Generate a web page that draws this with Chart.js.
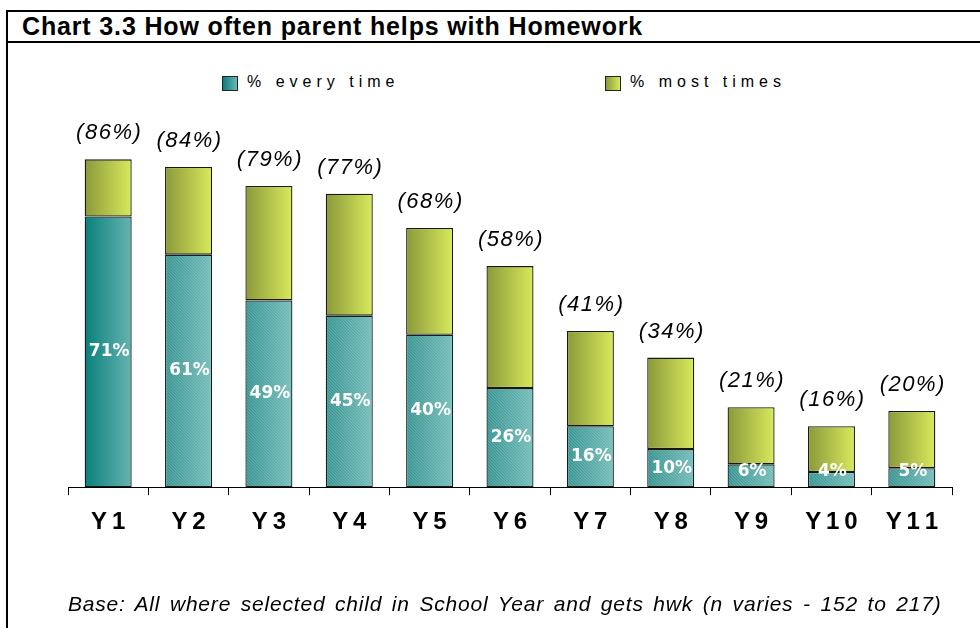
<!DOCTYPE html>
<html>
<head>
<meta charset="utf-8">
<script src="https://cdn.jsdelivr.net/npm/chart.js@4.4.1/dist/chart.umd.min.js"></script>
<style>
  html, body { margin: 0; padding: 0; background: #fff; }
  #wrap { position: relative; width: 980px; height: 628px; overflow: hidden; font-family: "Liberation Sans", Arial, sans-serif; }
  #frame { position: absolute; left: 6px; top: 10px; width: 990px; height: 640px; border-left: 2px solid #000; border-top: 2px solid #000; }
  #title { position: absolute; left: 8px; top: 12px; width: 990px; height: 29px; border-bottom: 2px solid #000; }
  #title span { position: absolute; left: 14px; top: 0px; font: bold 25px "Liberation Sans", Arial, sans-serif; letter-spacing: 0.85px; color: #000; }
  .leg { position: absolute; top: 73px; font: 16px "Liberation Sans", Arial, sans-serif; letter-spacing: 5px; color: #000; }
  .leg i { position: absolute; left: -25px; top: 3px; width: 14px; height: 13px; border: 1px solid #222; }
  #foot { position: absolute; left: 68px; top: 592px; font: italic 21px "Liberation Sans", Arial, sans-serif; color: #000; letter-spacing: 0.8px; word-spacing: 3px; white-space: nowrap; }
  #myChart { position: absolute; left: 0; top: 0; }
</style>
</head>
<body>
<div id="wrap">
  <div id="frame"></div>
  <div id="title"><span>Chart 3.3 How often parent helps with Homework</span></div>
  <div class="leg" style="left:247px"><i style="background:linear-gradient(90deg,#0b7f7c,#6ab8b4)"></i>% every time</div>
  <div class="leg" style="left:630px"><i style="background:linear-gradient(90deg,#8c9a3a,#d8ea5c)"></i>% most times</div>
  <canvas id="myChart" width="980" height="628"></canvas>
  <div id="foot">Base: All where selected child in School Year and gets hwk (n varies - 152 to 217)</div>
</div>
<script>
const years = ['Y1', 'Y2', 'Y3', 'Y4', 'Y5', 'Y6', 'Y7', 'Y8', 'Y9', 'Y10', 'Y11'];
const everyTime = [71, 61, 49, 45, 40, 26, 16, 10, 6, 4, 5];
const mostTimes = [15, 23, 30, 32, 28, 32, 25, 24, 15, 12, 15];
const totals = [86, 84, 79, 77, 68, 58, 41, 34, 21, 16, 20];

const ctx = document.getElementById('myChart');
const barPct = 0.585;

// gradient across one bar, left dark -> right light
function barGradient(context, from, to) {
    const chart = context.chart;
    const x = chart.scales.x;
    if (!x || !chart.chartArea) return from;
    const c = x.getPixelForValue(context.dataIndex);
    const half = (x.width / years.length) * barPct / 2;
    const g = chart.ctx.createLinearGradient(c - half, 0, c + half, 0);
    g.addColorStop(0, from);
    g.addColorStop(1, to);
    return g;
}

// diagonal hatching on the "every time" bars (all but Y1)
const hatch = {
    id: 'hatch',
    afterDatasetDraw(chart, args) {
        if (args.index !== 0) return;
        const c = chart.ctx;
        args.meta.data.forEach((bar, i) => {
            if (i === 0) return;
            const l = bar.x - bar.width / 2, t = bar.y, w = bar.width, h = bar.base - bar.y;
            c.save();
            c.beginPath();
            c.rect(l + 1, t + 1, w - 2, h - 2);
            c.clip();
            c.strokeStyle = 'rgba(255,255,255,0.22)';
            c.lineWidth = 1.2;
            for (let k = -h; k < w + h; k += 3) {
                c.beginPath();
                c.moveTo(l + k, t);
                c.lineTo(l + k + h, t + h);
                c.stroke();
            }
            c.restore();
        });
    }
};

// value labels inside and totals above
const labels = {
    id: 'labels',
    afterDatasetsDraw(chart) {
        const c = chart.ctx;
        const low = chart.getDatasetMeta(0).data;
        const high = chart.getDatasetMeta(1).data;
        c.save();
        c.textAlign = 'center';
        c.textBaseline = 'middle';
        low.forEach((bar, i) => {
            let y = (bar.y + bar.base) / 2;
            y = Math.min(y, bar.base - 16);
            c.fillStyle = '#fff';
            c.font = 'bold 17px "DejaVu Sans", Verdana, sans-serif';
            c.fillText(everyTime[i] + '%', bar.x + 1, y);
        });
        high.forEach((bar, i) => {
            c.fillStyle = '#000';
            c.font = 'italic 22px "Liberation Sans", Arial, sans-serif';
            c.letterSpacing = '1.5px';
            c.fillText('(' + totals[i] + '%)', bar.x + 1, bar.y - 26);
        });
        c.restore();
    }
};

new Chart(ctx, {
    type: 'bar',
    data: {
        labels: years,
        datasets: [{
            label: '% every time',
            data: everyTime,
            backgroundColor: (context) => context.dataIndex === 0
                ? barGradient(context, '#0a7f7b', '#66b4b0')
                : barGradient(context, '#2a8d8a', '#6cb9b5'),
            borderColor: '#0f1a1a',
            borderWidth: 1.3,
            borderSkipped: false,
            barPercentage: barPct,
            categoryPercentage: 1
        }, {
            label: '% most times',
            data: mostTimes,
            backgroundColor: (context) => barGradient(context, '#8b993a', '#d8ea5c'),
            borderColor: '#1a1a0a',
            borderWidth: 1.3,
            borderSkipped: false,
            barPercentage: barPct,
            categoryPercentage: 1
        }]
    },
    options: {
        responsive: false,
        animation: false,
        layout: { padding: { left: 68, right: 28, top: 106, bottom: 78 } },
        plugins: {
            legend: { display: false },
            tooltip: { enabled: false }
        },
        scales: {
            x: {
                stacked: true,
                grid: { offset: true, drawOnChartArea: false, drawTicks: true, tickLength: 8, color: '#000' },
                border: { display: true, color: '#000', width: 1 },
                ticks: {
                    color: '#000',
                    padding: 13,
                    font: { family: '"Liberation Sans", Arial, sans-serif', size: 24, weight: 'bold' },
                    callback: function (value) {
                        return this.getLabelForValue(value).split('').join('\u2009');
                    }
                }
            },
            y: {
                stacked: true,
                display: false,
                min: 0,
                max: 100
            }
        }
    },
    plugins: [hatch, labels]
});
</script>
</body>
</html>
